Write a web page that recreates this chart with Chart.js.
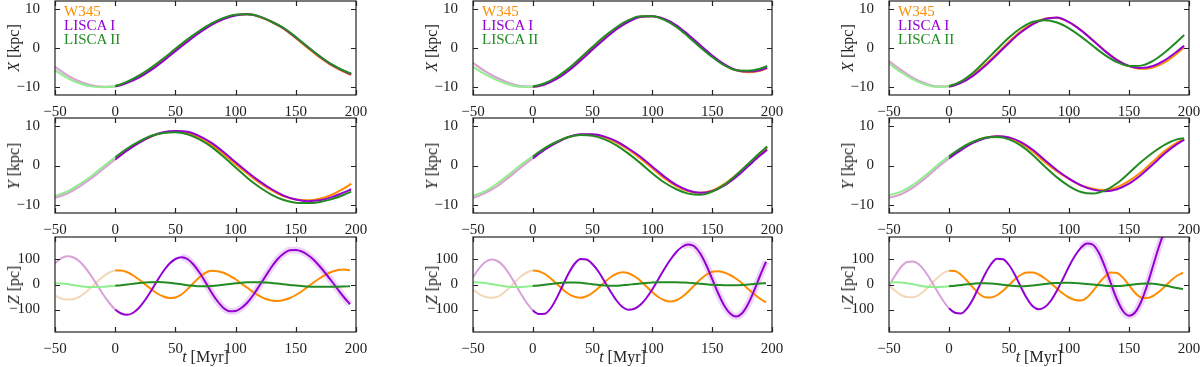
<!DOCTYPE html>
<html>
<head>
<meta charset="utf-8">
<script src="https://cdn.jsdelivr.net/npm/chart.js@4.4.0/dist/chart.umd.min.js"></script>
<style>
    body { margin: 0; background: #fff; width: 1200px; height: 367px; overflow: hidden; position: relative;
           font-family: 'Liberation Serif', serif; color: #222; }
    canvas { position: absolute; }
    .ylab { position: absolute; transform: translate(-50%, -50%) rotate(-90deg); white-space: nowrap; font-size: 16px; }
    .xlab { position: absolute; transform: translate(-50%, -50%); white-space: nowrap; font-size: 16px; line-height: 16px; }
    .leg { position: absolute; font-size: 15px; line-height: 15px; white-space: nowrap; }
</style>
</head>
<body>
<script>
// time samples (Myr)
const tXY = [-50, -40, -30, -20, -10, 0, 10, 20, 30, 40, 50, 60, 70, 80, 90, 100, 110, 120, 130, 140, 150, 160, 170, 180, 190, 196];
const tZ = [-50, -45, -40, -35, -30, -25, -20, -15, -10, -5, 0, 5, 10, 15, 20, 25, 30, 35, 40, 45,
            50, 55, 60, 65, 70, 75, 80, 85, 90, 95, 100, 105, 110, 115, 120, 125, 130, 135, 140, 145,
            150, 155, 160, 165, 170, 175, 180, 185, 190, 195];

// tick labels
const tTicks = [-50, 0, 50, 100, 150, 200];
const kpcTicks = [-10, 0, 10];
const pcTicks = [-100, 0, 100];

const seriesNames = ['W345', 'LISCA I', 'LISCA II'];

// left column
const X1_W345 = [-4.9, -7.0, -8.6, -9.6, -9.9, -9.7, -8.7, -7.2, -5.3, -3.0, -0.5, 1.9, 4.2, 6.1, 7.5, 8.4, 8.6, 7.9, 6.6, 4.9, 2.5, 0.0, -2.4, -4.5, -6.1, -6.9];
const X1_LI = [-4.8, -6.9, -8.5, -9.5, -9.9, -9.8, -8.9, -7.5, -5.6, -3.3, -0.8, 1.6, 3.9, 5.9, 7.4, 8.3, 8.6, 8.0, 6.7, 5.0, 2.7, 0.2, -2.2, -4.3, -5.9, -6.7];
const X1_LII = [-5.7, -7.6, -9.0, -9.8, -10.0, -9.7, -8.6, -7.0, -5.0, -2.7, -0.2, 2.2, 4.4, 6.3, 7.7, 8.5, 8.6, 8.0, 6.7, 5.1, 2.8, 0.3, -2.1, -4.2, -5.8, -6.5];
const Y1_W345 = [-7.9, -6.9, -5.1, -3.0, -0.7, 1.6, 3.9, 5.8, 7.3, 8.3, 8.6, 8.2, 7.0, 5.2, 2.9, 0.3, -2.1, -4.4, -6.3, -7.8, -8.6, -8.8, -8.4, -7.4, -5.8, -4.6];
const Y1_LI = [-8.2, -7.1, -5.4, -3.3, -0.9, 1.5, 3.8, 5.8, 7.4, 8.4, 8.7, 8.5, 7.4, 5.7, 3.4, 0.8, -1.7, -4.0, -6.0, -7.6, -8.6, -9.0, -8.8, -8.0, -6.8, -6.0];
const Y1_LII = [-7.7, -6.6, -4.8, -2.7, -0.3, 2.1, 4.3, 6.1, 7.5, 8.2, 8.4, 7.9, 6.6, 4.7, 2.2, -0.5, -3.2, -5.5, -7.4, -8.7, -9.4, -9.5, -9.2, -8.5, -7.4, -6.6];
const Z1_W345 = [-44, -56, -60, -59, -50, -33, -12, 11, 32, 48, 56, 56, 49, 36, 19, 0, -19, -36, -48, -54,
                 -52, -40, -19, 6, 29, 47, 55, 53, 47, 35, 21, 3, -14, -32, -46, -58, -64, -66, -62, -54,
                 -42, -27, -9, 9, 25, 40, 51, 58, 60, 57];
const Z1_LI = [85, 104, 113, 109, 94, 68, 35, -2, -40, -73, -100, -116, -121, -113, -92, -61, -24, 16, 53, 83,
               102, 109, 102, 80, 48, 9, -32, -67, -94, -107, -106, -93, -71, -40, -3, 34, 71, 102, 124, 137,
               138, 132, 118, 98, 72, 43, 12, -20, -51, -79];
const Z1_LII = [5, 4, 2, -2, -6, -9, -10, -10, -9, -7, -5, -3, 0, 3, 6, 8, 9, 10, 9, 7,
                4, 1, -3, -5, -7, -7, -6, -4, -1, 2, 5, 7, 9, 9, 9, 8, 6, 4, 1, -2,
                -4, -6, -8, -9, -9, -9, -9, -9, -8, -7];

// middle column
const X2_W345 = [-3.9, -6.0, -7.7, -9.0, -9.8, -9.9, -9.2, -7.6, -5.5, -2.8, 0.0, 2.7, 5.1, 6.9, 8.0, 8.1, 7.3, 5.6, 3.2, 0.5, -2.1, -4.3, -5.7, -6.2, -5.8, -5.1];
const X2_LI = [-3.8, -5.9, -7.6, -8.9, -9.7, -9.9, -9.3, -7.9, -5.8, -3.2, -0.4, 2.3, 4.8, 6.7, 7.9, 8.1, 7.4, 5.8, 3.4, 0.7, -1.9, -4.1, -5.6, -6.0, -5.7, -5.0];
const X2_LII = [-4.8, -6.7, -8.2, -9.3, -9.9, -9.8, -9.0, -7.4, -5.2, -2.5, 0.3, 3.0, 5.3, 7.1, 8.1, 8.1, 7.2, 5.4, 2.9, 0.2, -2.3, -4.4, -5.7, -5.8, -5.3, -4.6];
const Y2_W345 = [-8.1, -6.9, -5.1, -2.8, -0.3, 2.0, 4.2, 5.9, 7.2, 7.8, 7.8, 7.1, 5.8, 4.0, 1.8, -0.7, -3.2, -5.2, -6.5, -6.9, -6.3, -4.7, -2.4, 0.3, 2.9, 4.4];
const Y2_LI = [-8.2, -7.0, -5.3, -3.0, -0.5, 1.8, 4.0, 5.8, 7.2, 7.9, 7.9, 7.3, 6.1, 4.3, 2.2, -0.3, -2.8, -4.9, -6.3, -6.9, -6.5, -5.1, -2.9, -0.2, 2.5, 4.0];
const Y2_LII = [-7.7, -6.5, -4.6, -2.3, 0.2, 2.3, 4.4, 6.0, 7.2, 7.7, 7.5, 6.6, 5.1, 3.0, 0.6, -2.0, -4.3, -6.0, -7.1, -7.4, -6.6, -4.9, -2.4, 0.4, 3.2, 4.8];
const Z2_W345 = [-20, -38, -49, -53, -50, -36, -15, 9, 32, 48, 56, 53, 42, 24, 3, -19, -38, -49, -53, -47,
                 -33, -13, 9, 29, 43, 49, 45, 33, 15, -8, -31, -50, -63, -68, -63, -49, -28, -4, 20, 39,
                 51, 53, 48, 38, 23, 5, -18, -38, -57, -71];
const Z2_LI = [29, 64, 89, 100, 95, 76, 44, 5, -37, -74, -103, -118, -117, -95, -54, -4, 45, 83, 102, 100,
               81, 51, 12, -28, -64, -90, -101, -97, -81, -54, -19, 21, 62, 99, 130, 151, 160, 153, 124, 78,
               22, -35, -84, -116, -128, -115, -78, -25, 35, 91];
const Z2_LII = [9, 8, 6, 2, -2, -6, -9, -10, -10, -8, -6, -4, -1, 2, 5, 7, 8, 8, 7, 4,
                1, -2, -4, -5, -5, -3, -1, 2, 4, 6, 8, 9, 9, 9, 9, 8, 7, 5, 3, 1,
                -1, -2, -3, -3, -3, -2, 0, 2, 4, 5];

// right column
const X3_W345 = [-3.4, -5.7, -7.7, -9.1, -9.8, -9.8, -8.8, -6.9, -4.3, -1.4, 1.6, 4.3, 6.3, 7.5, 7.75, 6.6, 4.6, 2.0, -0.7, -3.0, -4.6, -5.3, -5.0, -3.6, -1.4, 0.2];
const X3_LI = [-3.3, -5.6, -7.6, -9.0, -9.8, -9.8, -8.9, -7.1, -4.6, -1.7, 1.3, 4.0, 6.1, 7.4, 7.8, 6.6, 4.5, 1.9, -0.8, -3.1, -4.6, -5.1, -4.6, -3.1, -0.9, 0.6];
const X3_LII = [-3.9, -6.2, -8.0, -9.3, -9.9, -9.7, -8.5, -6.3, -3.4, -0.3, 2.7, 5.1, 6.7, 7.1, 6.5, 5.0, 2.9, 0.5, -1.8, -3.6, -4.6, -4.5, -3.3, -1.1, 1.6, 3.3];
const Y3_W345 = [-8.1, -7.2, -5.4, -3.1, -0.4, 2.0, 4.1, 5.8, 7.0, 7.4, 7.0, 5.6, 3.5, 0.8, -1.5, -3.4, -5.0, -5.9, -6.2, -5.5, -3.9, -1.7, 1.0, 3.7, 5.8, 6.6];
const Y3_LI = [-8.2, -7.3, -5.6, -3.3, -0.6, 1.8, 3.9, 5.7, 6.9, 7.4, 7.1, 5.9, 3.9, 1.3, -1.2, -3.3, -5.0, -6.1, -6.5, -6.0, -4.6, -2.4, 0.3, 3.1, 5.4, 6.5];
const Y3_LII = [-7.5, -6.6, -4.9, -2.6, 0.0, 2.3, 4.4, 6.0, 7.0, 7.2, 6.6, 5.0, 2.6, -0.3, -3.0, -5.2, -6.7, -7.1, -6.3, -4.5, -1.9, 0.9, 3.3, 5.3, 6.6, 6.9];
const Z3_W345 = [-4, -25, -42, -50, -51, -42, -23, 1, 25, 45, 55, 54, 39, 15, -12, -36, -51, -52, -43, -25,
                 -2, 21, 39, 48, 48, 39, 24, 5, -16, -36, -52, -62, -64, -52, -26, 5, 32, 48, 46, 27,
                 -3, -33, -52, -54, -46, -29, -7, 16, 35, 47];
const Z3_LI = [-4, 35, 70, 90, 92, 80, 53, 16, -25, -64, -95, -113, -116, -96, -58, -9, 41, 81, 103, 101,
               78, 38, -11, -56, -88, -99, -90, -64, -24, 23, 72, 115, 147, 164, 159, 126, 70, 3, -60, -106,
               -125, -112, -70, -5, 74, 152, 219, 264];
const Z3_LII = [9, 9, 8, 5, 1, -4, -8, -10, -10, -9, -7, -5, -2, 1, 3, 5, 5, 4, 2, -1,
                -4, -6, -7, -6, -4, -1, 2, 5, 6, 7, 7, 6, 4, 2, 0, -2, -5, -6, -6, -5,
                -2, 1, 3, 4, 3, 0, -4, -9, -14, -18];

// layout of the 3x3 grid (plot areas, px)
const colLeft = [55, 473, 889];
const colWidth = [301, 299, 300];
const rowTop = [1, 118, 237];
const rowHeight = [94, 95, 95];
const padL = 52, padR = 12, padT = 6, padB = 26;

const dark = ['#ff8c00', '#9400d3', '#228b22'];
const light = ['#f3d7b8', '#d8a2d8', '#90ee90'];
const haloFrom = [55, 125, 110];

Chart.defaults.font.family = "'Liberation Serif', serif";
Chart.defaults.font.size = 15;
Chart.defaults.color = '#222';

const fmt = v => (v < 0 ? '\u2212' + Math.abs(v) : String(v));

// pin the plot area: no extra room for overhanging tick labels
function noPad(s) {
    s.paddingLeft = 0; s.paddingRight = 0; s.paddingTop = 0; s.paddingBottom = 0;
}

const framePlugin = {
    id: 'frame',
    afterDatasetsDraw(chart) {
        const { ctx, chartArea: a, scales: { x, y } } = chart;
        ctx.save();
        ctx.strokeStyle = '#222';
        ctx.lineWidth = 1.2;
        ctx.strokeRect(a.left, a.top, a.right - a.left, a.bottom - a.top);
        ctx.beginPath();
        x.ticks.forEach(t => {
            const px = Math.round(x.getPixelForValue(t.value)) + 0.5;
            ctx.moveTo(px, a.bottom); ctx.lineTo(px, a.bottom - 5);
            ctx.moveTo(px, a.top); ctx.lineTo(px, a.top + 5);
        });
        y.ticks.forEach(t => {
            const py = Math.round(y.getPixelForValue(t.value)) + 0.5;
            ctx.moveTo(a.left, py); ctx.lineTo(a.left + 5, py);
            ctx.moveTo(a.right, py); ctx.lineTo(a.right - 5, py);
        });
        ctx.stroke();
        ctx.restore();
    }
};

function line(ts, vals, k) {
    return {
        data: vals.map((v, i) => ({ x: ts[i], y: v })),
        borderColor: dark[k],
        borderWidth: 2,
        pointRadius: 0,
        cubicInterpolationMode: 'monotone',
        order: [3, 1, 0][k],
        segment: { borderColor: c => (c.p0.parsed.x < 0 ? light[k] : dark[k]) }
    };
}

function halo(ts, vals, from) {
    return {
        data: vals.map((v, i) => ({ x: ts[i], y: v })),
        borderColor: 'rgba(148,0,211,0.16)',
        borderWidth: 7,
        pointRadius: 0,
        cubicInterpolationMode: 'monotone',
        order: 9,
        segment: { borderColor: c => (c.p0.parsed.x < from ? 'rgba(0,0,0,0)' : 'rgba(148,0,211,0.16)') }
    };
}

const panels = [
    { col: 0, row: 0, ts: tXY, s: [X1_W345, X1_LI, X1_LII] },
    { col: 0, row: 1, ts: tXY, s: [Y1_W345, Y1_LI, Y1_LII] },
    { col: 0, row: 2, ts: tZ, s: [Z1_W345, Z1_LI, Z1_LII] },
    { col: 1, row: 0, ts: tXY, s: [X2_W345, X2_LI, X2_LII] },
    { col: 1, row: 1, ts: tXY, s: [Y2_W345, Y2_LI, Y2_LII] },
    { col: 1, row: 2, ts: tZ, s: [Z2_W345, Z2_LI, Z2_LII] },
    { col: 2, row: 0, ts: tXY, s: [X3_W345, X3_LI, X3_LII] },
    { col: 2, row: 1, ts: tXY, s: [Y3_W345, Y3_LI, Y3_LII] },
    { col: 2, row: 2, ts: tZ, s: [Z3_W345, Z3_LI, Z3_LII] }
];

const yLabels = ['<i>X</i> [kpc]', '<i>Y</i> [kpc]', '<i>Z</i> [pc]'];

panels.forEach(p => {
    const w = colWidth[p.col], h = rowHeight[p.row];
    const canvas = document.createElement('canvas');
    canvas.width = w + padL + padR;
    canvas.height = h + padT + padB;
    canvas.style.left = (colLeft[p.col] - padL) + 'px';
    canvas.style.top = (rowTop[p.row] - padT) + 'px';
    document.body.appendChild(canvas);

    const isZ = p.row === 2;
    const yTicks = isZ ? pcTicks : kpcTicks;
    const lim = isZ ? 190 : 12;

    const datasets = p.s.map((vals, k) => line(p.ts, vals, k));
    if (isZ) datasets.push(halo(p.ts, p.s[1], haloFrom[p.col]));

    new Chart(canvas.getContext('2d'), {
        type: 'line',
        data: { datasets },
        options: {
            animation: false,
            responsive: false,
            layout: { padding: { top: padT, right: padR, left: 0, bottom: 0 } },
            plugins: { legend: { display: false }, tooltip: { enabled: false } },
            scales: {
                x: {
                    type: 'linear', min: -50, max: 200,
                    grid: { display: false }, border: { display: false },
                    afterBuildTicks: s => { s.ticks = tTicks.map(v => ({ value: v })); },
                    afterFit: s => { s.height = padB; noPad(s); },
                    ticks: { padding: 0, maxRotation: 0, autoSkip: false, callback: fmt }
                },
                y: {
                    type: 'linear', min: -lim, max: lim,
                    grid: { display: false }, border: { display: false },
                    afterBuildTicks: s => { s.ticks = yTicks.map(v => ({ value: v })); },
                    afterFit: s => { s.width = padL; noPad(s); },
                    ticks: { padding: 7, autoSkip: false, callback: fmt }
                }
            }
        },
        plugins: [framePlugin]
    });

    // y axis label
    const yl = document.createElement('div');
    yl.className = 'ylab';
    yl.innerHTML = yLabels[p.row];
    yl.style.left = (colLeft[p.col] - 41) + 'px';
    yl.style.top = (rowTop[p.row] + h / 2) + 'px';
    document.body.appendChild(yl);

    if (p.row === 2) {
        const xl = document.createElement('div');
        xl.className = 'xlab';
        xl.innerHTML = '<i>t</i> [Myr]';
        xl.style.left = (colLeft[p.col] + w / 2) + 'px';
        xl.style.top = '357px';
        document.body.appendChild(xl);
    }

    if (p.row === 0) {
        seriesNames.forEach((name, k) => {
            const lg = document.createElement('div');
            lg.className = 'leg';
            lg.textContent = name;
            lg.style.color = dark[k];
            lg.style.left = (colLeft[p.col] + 9) + 'px';
            lg.style.top = (rowTop[p.row] + 3 + k * 14) + 'px';
            document.body.appendChild(lg);
        });
    }
});
</script>
</body>
</html>
